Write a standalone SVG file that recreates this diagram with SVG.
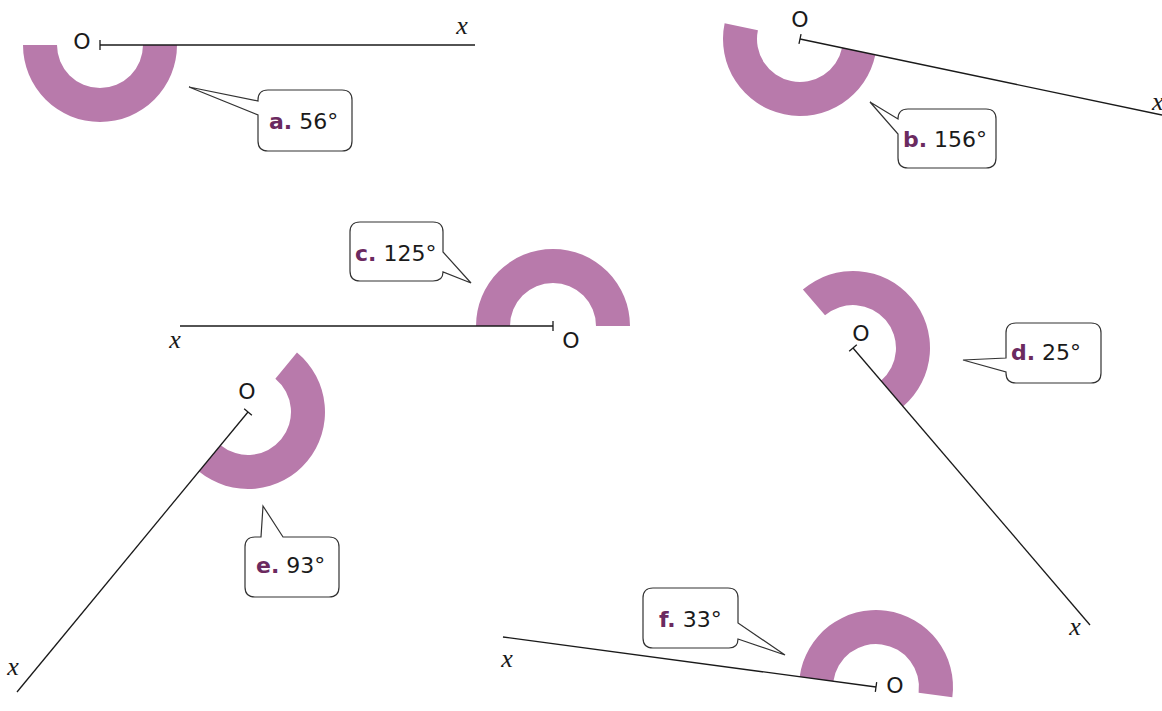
<svg xmlns="http://www.w3.org/2000/svg" width="1162" height="711" viewBox="0 0 1162 711">
<style>
.ring{fill:#b87aab;stroke:none}
.ray{stroke:#1a1a1a;stroke-width:1.3;fill:none}
.tick{stroke:#1a1a1a;stroke-width:1.3}
.o{font-family:"DejaVu Sans",sans-serif;font-size:22px;fill:#1a1a1a;text-anchor:middle}
.x{font-family:"Liberation Serif",serif;font-style:italic;font-size:26px;fill:#1a1a1a;text-anchor:middle}
.bub{fill:#fff;stroke:#333;stroke-width:1.2;stroke-linejoin:miter}
.lbl{font-family:"DejaVu Sans",sans-serif;font-size:22px;fill:#1a1a1a}
.k{font-weight:bold;fill:#6b2a60}
</style>
<rect width="1162" height="711" fill="#fff"/>
<g id="angle-a">
<path class="ring" d="M177,45 A77,77 0 0 1 100,122 A77,77 0 0 1 23,45 L57,45 A43,43 0 0 0 100,88 A43,43 0 0 0 143,45 Z"/>
<text class="o" x="82" y="49">O</text>
<text class="x" x="462" y="34">x</text>
</g>
<g id="angle-b">
<path class="ring" d="M875.36,54.82 A77,77 0 0 1 784.18,114.36 A77,77 0 0 1 724.64,23.18 L757.92,30.16 A43,43 0 0 0 791.16,81.08 A43,43 0 0 0 842.08,47.84 Z"/>
<text class="o" x="800" y="27">O</text>
<text class="x" x="1152" y="110" style="text-anchor:start">x</text>
</g>
<g id="angle-c">
<path class="ring" d="M476,326 A77,77 0 0 1 553,249 A77,77 0 0 1 630,326 L596,326 A43,43 0 0 0 553,283 A43,43 0 0 0 510,326 Z"/>
<text class="o" x="571" y="348">O</text>
<text class="x" x="175" y="348">x</text>
</g>
<g id="angle-d">
<path class="ring" d="M903.11,406.47 A77,77 0 0 0 911.47,297.89 A77,77 0 0 0 802.89,289.53 L825.02,315.35 A43,43 0 0 1 885.65,320.02 A43,43 0 0 1 880.98,380.65 Z"/>
<text class="o" x="861" y="341">O</text>
<text class="x" x="1075" y="635">x</text>
</g>
<g id="angle-e">
<path class="ring" d="M199.02,471.41 A77,77 0 0 0 307.41,460.98 A77,77 0 0 0 296.98,352.59 L275.35,378.82 A43,43 0 0 1 281.18,439.35 A43,43 0 0 1 220.65,445.18 Z"/>
<text class="o" x="247" y="399">O</text>
<text class="x" x="13" y="675">x</text>
</g>
<g id="angle-f">
<path class="ring" d="M799.68,676.81 A77,77 0 0 1 886.19,610.68 A77,77 0 0 1 952.32,697.19 L918.62,692.69 A43,43 0 0 0 881.69,644.38 A43,43 0 0 0 833.38,681.31 Z"/>
<text class="o" x="895" y="693">O</text>
<text class="x" x="507" y="667">x</text>
</g>
<g id="rays">
<line class="ray" x1="100" y1="45" x2="475" y2="45"/>
<line class="tick" x1="100" y1="40" x2="100" y2="50"/>
<line class="ray" x1="800" y1="39" x2="1162" y2="115"/>
<line class="tick" x1="801.03" y1="34.11" x2="798.97" y2="43.89"/>
<line class="ray" x1="553" y1="326" x2="180" y2="326"/>
<line class="tick" x1="553" y1="321" x2="553" y2="331"/>
<line class="ray" x1="853" y1="348" x2="1090" y2="625"/>
<line class="tick" x1="849.2" y1="351.25" x2="856.8" y2="344.75"/>
<line class="ray" x1="248" y1="412" x2="17" y2="692"/>
<line class="tick" x1="244.14" y1="408.82" x2="251.86" y2="415.18"/>
<line class="ray" x1="876" y1="687" x2="503" y2="637"/>
<line class="tick" x1="876.66" y1="682.04" x2="875.34" y2="691.96"/>
</g>
<g id="label-a">
<path class="bub" d="M268,90 H342 Q352,90 352,100 V141 Q352,151 342,151 H268 Q258,151 258,141 V115 L189,87 L258,101 V100 Q258,90 268,90 Z"/>
<text class="lbl" x="269" y="129"><tspan class="k">a.</tspan> 56°</text>
</g>
<g id="label-b">
<path class="bub" d="M908,109 H986 Q996,109 996,119 V158 Q996,168 986,168 H908 Q898,168 898,158 V134 L870,102 L898,119 Q898,109 908,109 Z"/>
<text class="lbl" x="903" y="147"><tspan class="k">b.</tspan> 156°</text>
</g>
<g id="label-c">
<path class="bub" d="M360,222 H433 Q443,222 443,232 V252 L471,283 L443,272 Q443,281 433,281 H360 Q350,281 350,271 V232 Q350,222 360,222 Z"/>
<text class="lbl" x="355" y="260.5"><tspan class="k">c.</tspan> 125°</text>
</g>
<g id="label-d">
<path class="bub" d="M1016,323 H1091 Q1101,323 1101,333 V373 Q1101,383 1091,383 H1016 Q1006,383 1006,373 V372 L963,360 L1006,358 V333 Q1006,323 1016,323 Z"/>
<text class="lbl" x="1011" y="360"><tspan class="k">d.</tspan> 25°</text>
</g>
<g id="label-e">
<path class="bub" d="M255,537 H261 L263,506 L283,537 H329 Q339,537 339,547 V587 Q339,597 329,597 H255 Q245,597 245,587 V547 Q245,537 255,537 Z"/>
<text class="lbl" x="256" y="573"><tspan class="k">e.</tspan> 93°</text>
</g>
<g id="label-f">
<path class="bub" d="M653,588 H728 Q738,588 738,598 V623 L785,655 L738,639 Q738,648 729,648 H653 Q643,648 643,638 V598 Q643,588 653,588 Z"/>
<text class="lbl" x="659" y="627"><tspan class="k">f.</tspan> 33°</text>
</g>
</svg>
